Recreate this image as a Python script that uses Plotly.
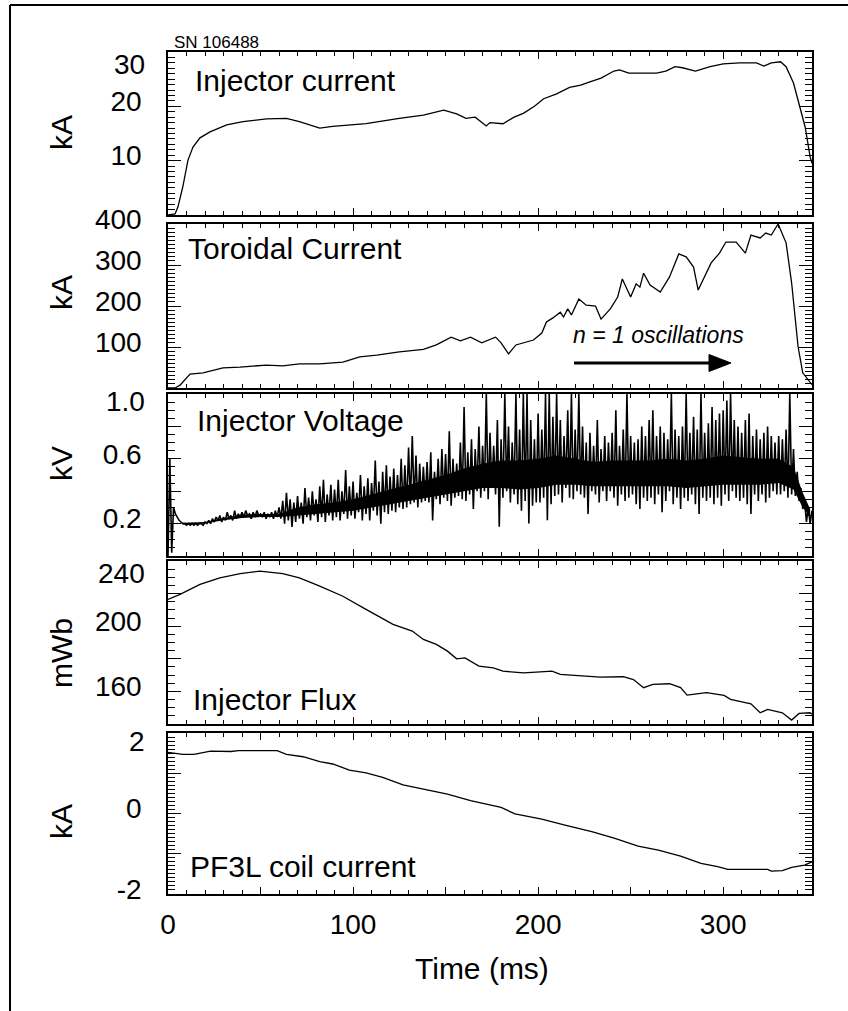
import plotly.graph_objects as go

W, H = 848, 1011

# ---------------- data ----------------
inj_t = [0, 3.8, 5.4, 8, 10.8, 13.5, 17.3, 22.7, 31.7, 40.6, 53.3, 64, 71, 82, 89, 107, 125, 138,
         149, 156, 161, 166, 172, 174, 181, 187, 192, 198, 203, 210, 217, 223, 228, 234, 241, 244,
         249, 264, 269, 274, 278, 285, 293, 300, 309, 318, 322, 326, 331, 334, 338, 341.6, 344.3, 347, 348]
inj_ka = [0, 0.2, 1.5, 5.2, 10.1, 12.5, 14.2, 15.3, 16.6, 17.2, 17.7, 17.8, 17.2, 16.0, 16.3, 16.8, 17.8, 18.4,
          19.3, 18.6, 17.8, 18.0, 16.4, 17.0, 16.8, 18.0, 18.7, 20.0, 21.4, 22.3, 23.5, 23.9, 24.5, 25.2, 26.5, 26.7,
          26.1, 26.1, 26.5, 27.3, 27.1, 26.5, 27.3, 27.8, 28.0, 28.0, 27.4, 28.0, 28.2, 27.3, 24.3, 19.9, 16.2, 10.7, 9.5]

tor_t = [0, 3.8, 6.5, 11.9, 19, 29.7, 38.9, 53.3, 62, 71, 82, 94.5, 103.6, 112.8, 125, 138, 145, 153, 158,
         163.5, 169.5, 177, 180, 184, 188, 197.5, 202, 204.5, 208, 212, 213.7, 216, 218, 222, 226, 231,
         234, 239, 243, 245.5, 250, 253, 255, 257, 260.5, 266, 271, 276, 280, 284, 286.5, 291, 293.5,
         298, 301.5, 307, 312, 315, 320, 323, 326, 329.7, 334, 337, 340.5, 343, 347, 348]
tor_ka = [0, 0, 7, 34, 37, 49, 51, 56, 54, 59, 59, 63, 76, 80, 88, 94, 105, 124, 115,
          124, 110, 124, 110, 83, 105, 117, 134, 161, 171, 185, 173, 193, 178, 217, 202, 200,
          168, 193, 222, 266, 222, 254, 246, 280, 251, 234, 271, 327, 320, 295, 239, 280, 305,
          329, 356, 356, 329, 373, 366, 378, 373, 400, 354, 256, 100, 37, 12, 8]

volt_dt_ms = 1.0
volt_kv = [
    0.00, 0.60, 0.02, 0.30, 0.26, 0.24, 0.22, 0.21, 0.20, 0.20,
    0.19, 0.20, 0.19, 0.20, 0.19, 0.20, 0.19, 0.20, 0.20, 0.19,
    0.21, 0.20, 0.22, 0.20, 0.23, 0.21, 0.24, 0.22, 0.25, 0.21,
    0.24, 0.22, 0.27, 0.23, 0.25, 0.22, 0.28, 0.23, 0.26, 0.24,
    0.27, 0.24, 0.28, 0.25, 0.26, 0.23, 0.27, 0.24, 0.28, 0.25,
    0.26, 0.24, 0.27, 0.23, 0.26, 0.24, 0.27, 0.23, 0.28, 0.24,
    0.30, 0.23, 0.34, 0.20, 0.39, 0.22, 0.35, 0.18, 0.33, 0.21,
    0.37, 0.23, 0.33, 0.20, 0.42, 0.24, 0.36, 0.22, 0.40, 0.25,
    0.35, 0.21, 0.43, 0.24, 0.47, 0.21, 0.38, 0.25, 0.44, 0.22,
    0.41, 0.24, 0.47, 0.22, 0.40, 0.26, 0.53, 0.23, 0.43, 0.25,
    0.46, 0.23, 0.39, 0.27, 0.50, 0.22, 0.43, 0.26, 0.48, 0.22,
    0.45, 0.28, 0.59, 0.25, 0.46, 0.20, 0.52, 0.27, 0.56, 0.26,
    0.49, 0.28, 0.54, 0.27, 0.50, 0.30, 0.60, 0.29, 0.56, 0.30,
    0.67, 0.32, 0.74, 0.33, 0.62, 0.30, 0.57, 0.33, 0.55, 0.34,
    0.58, 0.33, 0.64, 0.22, 0.52, 0.35, 0.60, 0.32, 0.66, 0.36,
    0.63, 0.34, 0.77, 0.31, 0.60, 0.36, 0.57, 0.37, 0.70, 0.35,
    0.92, 0.34, 0.64, 0.38, 0.72, 0.29, 0.66, 0.40, 0.80, 0.36,
    0.68, 0.40, 1.00, 0.35, 0.76, 0.42, 0.68, 0.38, 0.84, 0.18,
    0.72, 0.36, 1.00, 0.40, 0.80, 0.33, 0.70, 0.38, 1.00, 0.32,
    0.78, 0.28, 1.00, 0.34, 1.00, 0.20, 0.84, 0.31, 0.72, 0.33,
    0.88, 0.33, 0.78, 0.36, 1.00, 0.22, 1.00, 0.32, 0.86, 0.37,
    1.00, 0.38, 0.84, 0.33, 0.74, 0.42, 0.90, 0.36, 1.00, 0.35,
    0.78, 0.40, 1.00, 0.38, 0.80, 0.36, 0.70, 0.26, 0.76, 0.40,
    0.68, 0.38, 0.84, 0.33, 0.66, 0.40, 0.74, 0.34, 0.70, 0.40,
    0.76, 0.36, 0.90, 0.31, 0.68, 0.38, 0.78, 0.34, 1.00, 0.36,
    0.74, 0.38, 0.70, 0.32, 0.72, 0.29, 0.80, 0.36, 0.74, 0.34,
    0.84, 0.36, 0.90, 0.32, 0.74, 0.38, 0.80, 0.27, 0.76, 0.34,
    0.72, 0.40, 1.00, 0.32, 0.78, 0.36, 0.74, 0.29, 0.80, 0.36,
    1.00, 0.34, 0.76, 0.38, 0.86, 0.32, 0.78, 0.26, 1.00, 0.36,
    0.76, 0.34, 0.82, 0.36, 0.92, 0.32, 0.84, 0.36, 0.88, 0.31,
    0.90, 0.38, 0.96, 0.34, 1.00, 0.40, 0.84, 0.36, 0.80, 0.34,
    0.76, 0.36, 0.84, 0.32, 0.88, 0.26, 0.74, 0.38, 0.78, 0.34,
    0.72, 0.38, 0.76, 0.33, 0.80, 0.36, 0.74, 0.40, 0.70, 0.38,
    0.74, 0.38, 0.72, 0.40, 0.78, 0.36, 1.00, 0.38, 0.66, 0.37,
    0.52, 0.34, 0.42, 0.29, 0.34, 0.21, 0.30, 0.20, 0.28,
]
volt_t = [i * volt_dt_ms for i in range(len(volt_kv))]

# dense core of the voltage noise band (lower / upper edge of the solid black region)
volt_core_t = [8, 20, 30, 40, 50, 60, 70, 80, 90, 100, 110, 120, 130, 140, 150, 160, 170, 180, 190,
               200, 210, 220, 230, 240, 250, 260, 270, 280, 290, 300, 310, 320, 330, 338, 343, 347]
volt_core_lo = [0.195, 0.20, 0.22, 0.235, 0.24, 0.24, 0.25, 0.26, 0.27, 0.28, 0.30, 0.32, 0.34, 0.36, 0.38,
                0.40, 0.42, 0.42, 0.41, 0.42, 0.44, 0.44, 0.43, 0.43, 0.43, 0.43, 0.43, 0.42, 0.43, 0.44,
                0.44, 0.44, 0.45, 0.41, 0.30, 0.24]
volt_core_hi = [0.205, 0.21, 0.235, 0.255, 0.26, 0.26, 0.30, 0.32, 0.33, 0.35, 0.38, 0.41, 0.44, 0.47, 0.50,
                0.54, 0.57, 0.59, 0.59, 0.60, 0.62, 0.60, 0.58, 0.59, 0.59, 0.59, 0.60, 0.59, 0.60, 0.62,
                0.61, 0.60, 0.60, 0.55, 0.39, 0.29]

flux_t = [0, 6.5, 17.3, 28, 39, 49.6, 62, 71, 82, 94.5, 107, 121.6, 132, 138, 145, 151, 156, 160.5,
          168, 175.8, 181, 192, 199, 207.5, 212, 222.7, 233.5, 246, 251.5, 257, 262, 271, 277, 280.5,
          291, 300.5, 304, 315, 320, 324, 327.5, 332, 337, 341, 347, 348]
flux_mwb = [216.4, 219.5, 225.6, 229.7, 232.3, 233.8, 232.3, 229.7, 224.6, 218.4, 210.3, 201.1, 197, 191.9,
            188.8, 184.7, 180, 180.6, 175.5, 174.5, 172.4, 171.4, 171.8, 172.4, 170.4, 169.4, 168.8, 169,
            167.3, 162.3, 164.3, 164.7, 162.3, 157.7, 159.2, 157.5, 155.1, 152.4, 146.9, 149, 147.9, 146.9,
            142.4, 146.5, 146.9, 146]

pf_t = [0, 8, 14, 23, 34, 38, 59, 64, 73, 82, 89, 98, 107, 116, 127, 138, 151, 163.5, 180, 187.5, 202,
        214.5, 229, 241.5, 254, 265, 277, 288, 297, 302.5, 324, 326, 332, 337, 344, 347, 348]
pf_ka = [1.52, 1.47, 1.47, 1.55, 1.54, 1.56, 1.56, 1.47, 1.41, 1.29, 1.23, 1.08, 1.01, 0.90, 0.71, 0.61,
         0.48, 0.32, 0.15, -0.01, -0.14, -0.29, -0.45, -0.62, -0.81, -0.91, -1.06, -1.24, -1.32, -1.39,
         -1.39, -1.43, -1.42, -1.34, -1.28, -1.22, -1.20]

panel_labels = ["Injector current", "Toroidal Current", "Injector Voltage", "Injector Flux", "PF3L coil current"]
y_titles = ["kA", "kA", "kV", "mWb", "kA"]
x_tick_vals = [0, 50, 100, 150, 200, 250, 300]
x_tick_text = ["0", "", "100", "", "200", "", "300"]

# ---------------- layout helpers ----------------
FONT = "Liberation Sans, Arial, Helvetica, sans-serif"


def px(x):
    return x / W


def py(y):
    return 1 - y / H


X_LEFT, X_RIGHT = 168, 812
panels_px = [(52, 215), (224, 388), (394, 556), (561, 724), (733, 894)]


def ax_names(i):
    return ("x" if i == 0 else f"x{i+1}"), ("y" if i == 0 else f"y{i+1}")


fig = go.Figure()
# voltage dense core (filled band) drawn first
xa, ya = ax_names(2)
fig.add_trace(go.Scatter(x=volt_core_t, y=volt_core_lo, mode="lines", line=dict(width=0, color="black"),
                         xaxis=xa, yaxis=ya, showlegend=False, hoverinfo="skip"))
fig.add_trace(go.Scatter(x=volt_core_t, y=volt_core_hi, mode="lines", line=dict(width=0, color="black"),
                         fill="tonexty", fillcolor="black",
                         xaxis=xa, yaxis=ya, showlegend=False, hoverinfo="skip"))

series = [(inj_t, inj_ka, 1.3), (tor_t, tor_ka, 1.3), (volt_t, volt_kv, 1.6),
          (flux_t, flux_mwb, 1.3), (pf_t, pf_ka, 1.3)]
for i, (tx, ty, lw) in enumerate(series):
    xa, ya = ax_names(i)
    fig.add_trace(go.Scatter(x=tx, y=ty, mode="lines", line=dict(color="black", width=lw),
                             xaxis=xa, yaxis=ya, showlegend=False, hoverinfo="skip"))

y_specs = [
    dict(range=[0, 30], tickvals=[0, 10, 20, 30], ticktext=["", "10", "20", ""], minor_dtick=1),
    dict(range=[0, 400], tickvals=[0, 100, 200, 300, 400], ticktext=["", "100", "200", "300", "400"], minor_dtick=10),
    dict(range=[0, 1.0], tickvals=[0, 0.2, 0.4, 0.6, 0.8, 1.0], ticktext=["", "0.2", "", "0.6", "", ""], minor_dtick=0.05),
    dict(range=[140, 240], tickvals=[140, 160, 180, 200, 220, 240], ticktext=["", "160", "", "200", "", ""], minor_dtick=5),
    dict(range=[-2, 2], tickvals=[-2, -1, 0, 1, 2], ticktext=["-2", "", "0", "", ""], minor_dtick=0.1),
]

layout = dict(width=W, height=H, margin=dict(l=0, r=0, t=0, b=0, autoexpand=False),
              paper_bgcolor="white", plot_bgcolor="white", template="none",
              font=dict(family=FONT, color="black"), showlegend=False)

for i in range(5):
    top, bot = panels_px[i]
    xk = "xaxis" if i == 0 else f"xaxis{i+1}"
    yk = "yaxis" if i == 0 else f"yaxis{i+1}"
    xname, yname = ax_names(i)
    last = (i == 4)
    layout[xk] = dict(domain=[px(X_LEFT), px(X_RIGHT)], anchor=yname, range=[0, 348], automargin=False,
                      showgrid=False, zeroline=False, showline=True, linecolor="black", linewidth=1.5,
                      mirror="allticks", ticks="inside", ticklen=7, tickwidth=1.2, tickcolor="black",
                      tickvals=x_tick_vals, ticktext=x_tick_text, showticklabels=last,
                      tickfont=dict(size=28, family=FONT, color="black"), ticklabelstandoff=5,
                      minor=dict(dtick=10, ticks="inside", ticklen=4, tickwidth=1, tickcolor="black"))
    s = y_specs[i]
    layout[yk] = dict(domain=[py(bot), py(top)], anchor=xname, range=s["range"], automargin=False,
                      showgrid=False, zeroline=False, showline=True, linecolor="black", linewidth=1.5,
                      mirror="allticks", ticks="inside", ticklen=13, tickwidth=1.2, tickcolor="black",
                      tickvals=s["tickvals"], ticktext=s["ticktext"],
                      tickfont=dict(size=28, family=FONT, color="black"), ticklabelstandoff=19,
                      ticklabelshift=-5,
                      minor=dict(dtick=s["minor_dtick"], ticks="inside", ticklen=7, tickwidth=1, tickcolor="black"))

fig.update_layout(**layout)

ann = []
# top-of-axis tick labels (drawn slightly lower as in the original)
for text, ycen in [("30", 64), ("1.0", 402), ("240", 573), ("2", 741)]:
    ann.append(dict(text=text, x=px(147), y=py(ycen), xref="paper", yref="paper",
                    xanchor="right", yanchor="middle", showarrow=False,
                    font=dict(size=28, family=FONT, color="black")))
# y titles
for text, ycen in zip(y_titles, [133, 293, 464, 653, 822]):
    ann.append(dict(text=text, x=px(61), y=py(ycen), xref="paper", yref="paper", textangle=-90,
                    xanchor="center", yanchor="middle", showarrow=False,
                    font=dict(size=30, family=FONT, color="black")))
# panel labels
for text, xl, yc in zip(panel_labels, [193, 186, 195, 191, 188], [80, 249, 420, 699, 866]):
    ann.append(dict(text=text, x=px(xl), y=py(yc), xref="paper", yref="paper",
                    xanchor="left", yanchor="middle", showarrow=False,
                    font=dict(size=30, family=FONT, color="black")))
ann.append(dict(text="<i>n = 1 oscillations</i>", x=px(571), y=py(335), xref="paper", yref="paper",
                xanchor="left", yanchor="middle", showarrow=False,
                font=dict(size=23, family=FONT, color="black")))
ann.append(dict(text="SN 106488", x=px(172), y=py(43), xref="paper", yref="paper",
                xanchor="left", yanchor="middle", showarrow=False,
                font=dict(size=17, family=FONT, color="black")))
ann.append(dict(text="Time (ms)", x=px(482), y=py(968), xref="paper", yref="paper",
                xanchor="center", yanchor="middle", showarrow=False,
                font=dict(size=30, family=FONT, color="black")))

shapes = [
    # outer frame (top and left edges visible)
    dict(type="line", xref="paper", yref="paper", x0=px(10), x1=1.0, y0=py(5), y1=py(5),
         line=dict(color="black", width=2)),
    dict(type="line", xref="paper", yref="paper", x0=px(10), x1=px(10), y0=py(5), y1=0,
         line=dict(color="black", width=2)),
    # arrow for n = 1 oscillations
    dict(type="line", xref="paper", yref="paper", x0=px(574), x1=px(712), y0=py(363), y1=py(363),
         line=dict(color="black", width=3.2)),
    dict(type="path", xref="paper", yref="paper",
         path=f"M {px(709)},{py(354.5)} L {px(731)},{py(363)} L {px(709)},{py(371.5)} Z",
         fillcolor="black", line=dict(color="black", width=1)),
]

fig.update_layout(annotations=ann, shapes=shapes)
fig.write_html("out.html")
